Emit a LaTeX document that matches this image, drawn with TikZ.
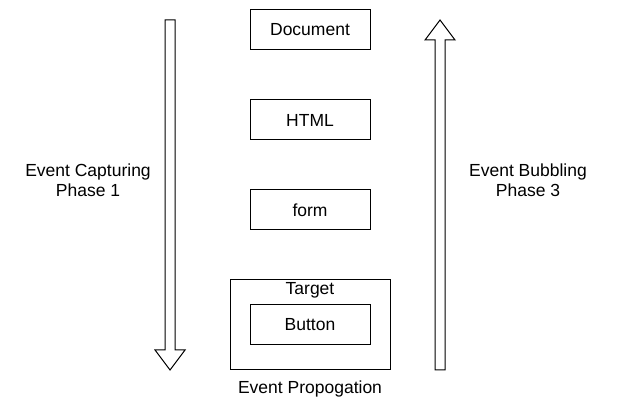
\documentclass[tikz,border=0pt]{standalone}
\usepackage{fontspec}
\setmainfont{Liberation Sans}
\usepackage{tikz}

\tikzset{
	elem/.style={draw, line width=1pt, minimum width=120pt, minimum height=40pt, inner sep=0pt, font=\fontsize{17.5}{20}\selectfont},
	lbl/.style={align=center, inner sep=0pt, font=\fontsize{17.5}{20}\selectfont},
	flow/.style={draw, line width=1pt, line join=miter, fill=white}
}

\begin{document}
\begin{tikzpicture}[x=1pt, y=-1pt]
	
	\useasboundingbox (0,0) rectangle (621,411);
	
	\draw[line width=1pt] (230,280) rectangle (390,370);
	\node[lbl] (target) at (310,290) {Target};
	
	\node[elem] (doc) at (310,30) {Document};
	\node[elem] (html) at (310,120) {HTML};
	\node[elem] (form) at (310,210) {form};
	\node[elem] (button) at (310,325) {Button};
	
	\node[lbl] (prop) at (310,389) {Event Propogation};
	
	% capturing, downwards
	\draw[flow] (165,20) -- (175,20) -- (175,350) -- (185,350) -- (170,370) -- (155,350) -- (165,350) -- cycle;
	\node[lbl] (capture) at (88,180) {Event Capturing\\Phase 1};
	
	% bubbling, upwards
	\draw[flow] (435,370) -- (445,370) -- (445,40) -- (455,40) -- (440,20) -- (425,40) -- (435,40) -- cycle;
	\node[lbl] (bubble) at (528,180) {Event Bubbling\\Phase 3};
	
\end{tikzpicture}
\end{document}
